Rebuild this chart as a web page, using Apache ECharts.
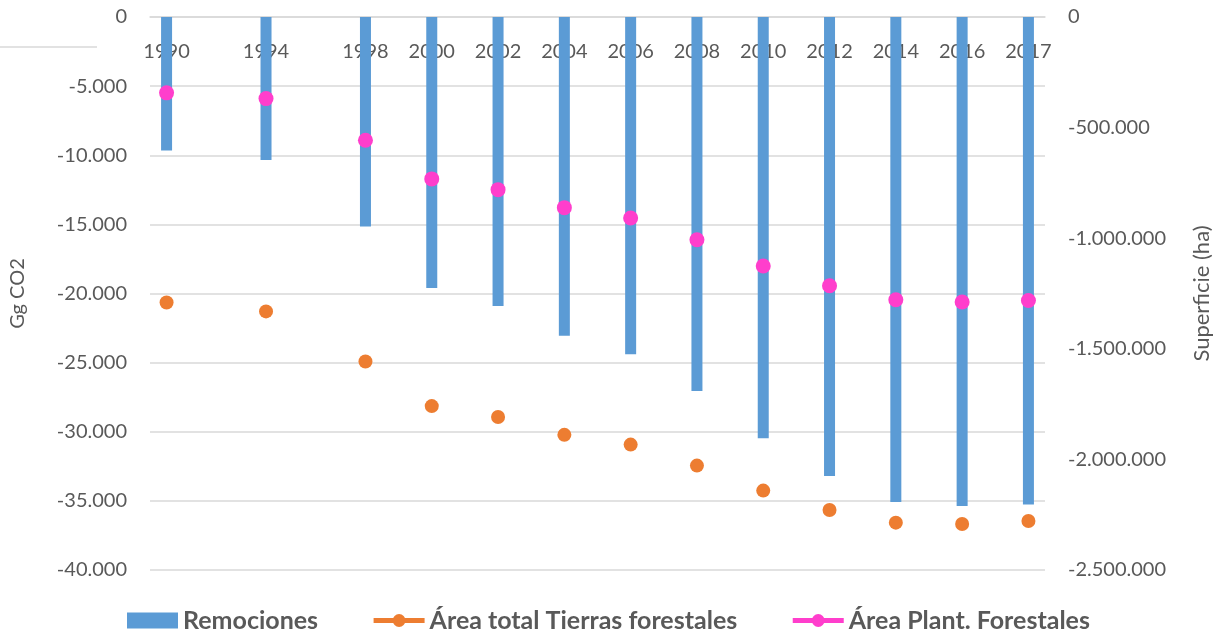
<!DOCTYPE html>
<html>
<head>
<meta charset="utf-8">
<script src="https://cdn.jsdelivr.net/npm/echarts@6/dist/echarts.min.js"></script>
<style>
html,body{margin:0;padding:0;background:#fff;}
#chart{width:1216px;height:634px;}
</style>
</head>
<body>
<div id="chart"></div>
<script>
// Years shown (category labels)
const years = ['1990','1994','1998','2000','2002','2004','2006','2008','2010','2012','2014','2016','2017'];
// Axis slots (half-step slots, as spaced in the original)
const axisSlots = ['1990','_a','_b','1994','_c','_d','1998','_e','2000','_f','2002','_g','2004','_h','2006','_i','2008','_j','2010','_k','2012','_l','2014','_m','2016','_n','2017'];
// Remociones (Gg CO2, left axis)
const remociones = [-9650,-10340,-15150,-19600,-20900,-23050,-24400,-27050,-30470,-33200,-35080,-35370,-35270];
// Área total Tierras forestales (ha, right axis)
const areaTotal = [-1290500,-1331000,-1557500,-1759000,-1808000,-1889000,-1933000,-2028000,-2141000,-2228500,-2286000,-2292000,-2278500];
// Área Plant. Forestales (ha, right axis)
const areaPlant = [-343000,-368800,-557500,-732000,-780500,-862000,-908600,-1006800,-1125800,-1214900,-1278300,-1288700,-1281400];
// Axis ticks
const leftTicks = {min:-40000, max:0, interval:5000};
const rightTicks = {min:-2500000, max:0, interval:500000};

function toSlots(arr){
  return axisSlots.map(s => { const i = years.indexOf(s); return i >= 0 ? arr[i] : null; });
}
function fmt(v){
  const s = Math.abs(v).toString().replace(/\B(?=(\d{3})+(?!\d))/g, '.');
  return (v < 0 ? '-' : '') + s;
}

const txt = '#595959';
const grid = '#d9d9d9';
const font = 'Lato, "Open Sans", sans-serif';

const chart = echarts.init(document.getElementById('chart'));
chart.setOption({
  animation: false,
  backgroundColor: '#fff',
  grid: {left: 150, right: 171, top: 17, height: 553, containLabel: false, outerBoundsMode: 'none'},
  xAxis: {
    type: 'category',
    position: 'top',
    data: axisSlots,
    boundaryGap: true,
    axisLine: {show: true, lineStyle: {color: grid, width: 1.5}},
    axisTick: {show: false},
    splitLine: {show: false},
    axisLabel: {
      inside: true, interval: 0, margin: 25,
      color: txt, fontSize: 20, fontFamily: font,
      formatter: v => years.includes(v) ? v : ''
    }
  },
  yAxis: [
    {
      type: 'value', position: 'left',
      min: leftTicks.min, max: leftTicks.max, interval: leftTicks.interval,
      name: 'Gg CO2', nameLocation: 'middle', nameRotate: 90, nameGap: 122,
      nameTextStyle: {color: txt, fontSize: 20, fontFamily: font},
      axisLine: {show: false}, axisTick: {show: false},
      splitLine: {show: true, lineStyle: {color: grid, width: 1.5}},
      axisLabel: {color: txt, fontSize: 20, fontFamily: font, margin: 23, formatter: fmt}
    },
    {
      type: 'value', position: 'right',
      min: rightTicks.min, max: rightTicks.max, interval: rightTicks.interval,
      name: 'Superficie (ha)', nameLocation: 'middle', nameRotate: 90, nameGap: 146,
      nameTextStyle: {color: txt, fontSize: 22, fontFamily: font},
      axisLine: {show: false}, axisTick: {show: false},
      splitLine: {show: false},
      axisLabel: {color: txt, fontSize: 20, fontFamily: font, margin: 23, formatter: fmt, verticalAlign: 'middle', padding: [4, 0, 0, 0]}
    }
  ],
  legend: {
    left: 127, top: 608, padding: 0,
    itemGap: 53, itemWidth: 51, itemHeight: 16,
    textStyle: {color: txt, fontSize: 25, fontWeight: 'bold', fontFamily: font},
    data: [
      {name: 'Remociones', icon: 'rect'},
      {name: 'Área total Tierras forestales', lineStyle: {width: 5, opacity: 1, color: '#ED7D31'}},
      {name: 'Área Plant. Forestales', lineStyle: {width: 5, opacity: 1, color: '#FF3ECC'}}
    ]
  },
  graphic: [{
    type: 'line', shape: {x1: 0, y1: 47, x2: 97, y2: 47},
    style: {stroke: grid, lineWidth: 1.5}
  }],
  series: [
    {
      name: 'Remociones', type: 'bar', yAxisIndex: 0,
      data: toSlots(remociones), barWidth: 11,
      itemStyle: {color: '#5B9BD5'}
    },
    {
      name: 'Área total Tierras forestales', type: 'line', yAxisIndex: 1,
      data: toSlots(areaTotal), symbol: 'circle', symbolSize: 14, showSymbol: true,
      connectNulls: false,
      lineStyle: {width: 5, opacity: 0, color: '#ED7D31'},
      itemStyle: {color: '#ED7D31'}
    },
    {
      name: 'Área Plant. Forestales', type: 'line', yAxisIndex: 1,
      data: toSlots(areaPlant), symbol: 'circle', symbolSize: 15, showSymbol: true,
      connectNulls: false,
      lineStyle: {width: 5, opacity: 0, color: '#FF3ECC'},
      itemStyle: {color: '#FF3ECC'}
    }
  ]
});
</script>
</body>
</html>
